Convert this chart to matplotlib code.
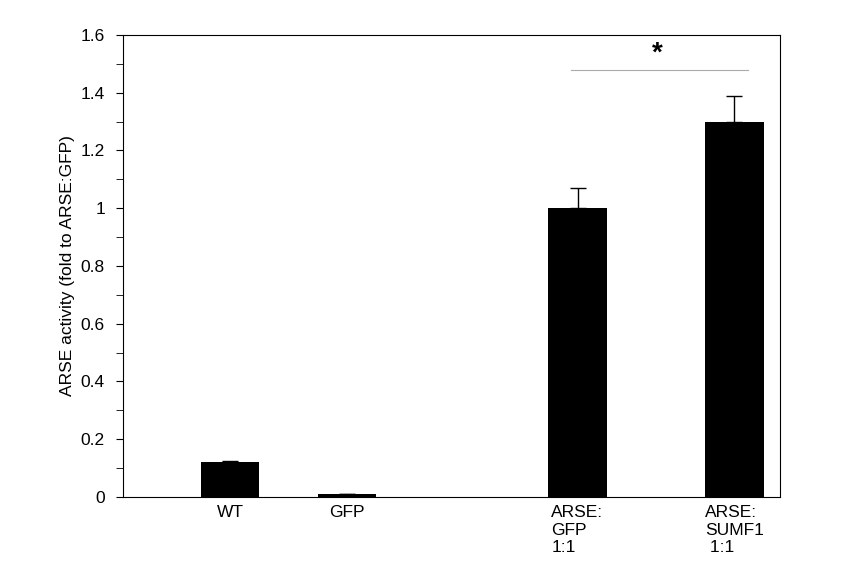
import matplotlib
matplotlib.use("Agg")
import matplotlib.pyplot as plt

categories = ["WT", "GFP", "ARSE:\nGFP\n1:1", "ARSE:\nSUMF1\n 1:1"]
values = [0.12, 0.01, 1.0, 1.3]
errors = [0.005, 0.0, 0.07, 0.09]
positions = [0, 1, 2.97, 4.31]

plt.rcParams['font.family'] = ['Liberation Sans', 'DejaVu Sans']
fig = plt.figure(figsize=(8.51, 5.88), dpi=100)
ax = fig.add_axes([0.1445, 0.1548, 0.772, 0.7857])
ax.bar(positions, values, width=0.5, color="black")
ax.errorbar(positions, values, yerr=[[0]*4, errors], fmt="none", ecolor="black",
            elinewidth=1, capsize=6, capthick=1)
ax.set_xlim(-0.915, 4.70)
ax.set_ylim(0, 1.6)
ax.set_yticks([0, 0.2, 0.4, 0.6, 0.8, 1.0, 1.2, 1.4, 1.6])
ax.set_yticklabels(["0", "0.2", "0.4", "0.6", "0.8", "1", "1.2", "1.4", "1.6"], fontsize=12.5)
ax.set_yticks([0.1, 0.3, 0.5, 0.7, 0.9, 1.1, 1.3, 1.5], minor=True)
ax.tick_params(axis='y', which='major', length=5, direction='out', pad=8)
ax.tick_params(axis='y', which='minor', length=5, direction='out')
ax.set_xticks(positions)
ax.set_xticklabels(categories, fontsize=12.5, va='top', multialignment='left')
ax.tick_params(axis='x', length=0, pad=6)
ax.set_ylabel("ARSE activity (fold to ARSE:GFP)", fontsize=12.5)
for s in ax.spines.values():
    s.set_linewidth(0.8)
ax.plot([2.91, 4.43], [1.48, 1.48], color="#aaaaaa", linewidth=0.8)
ax.text(3.65, 1.49, "*", ha="center", va="bottom", fontsize=20, fontweight="bold")
fig.savefig("out.png", dpi=100)
